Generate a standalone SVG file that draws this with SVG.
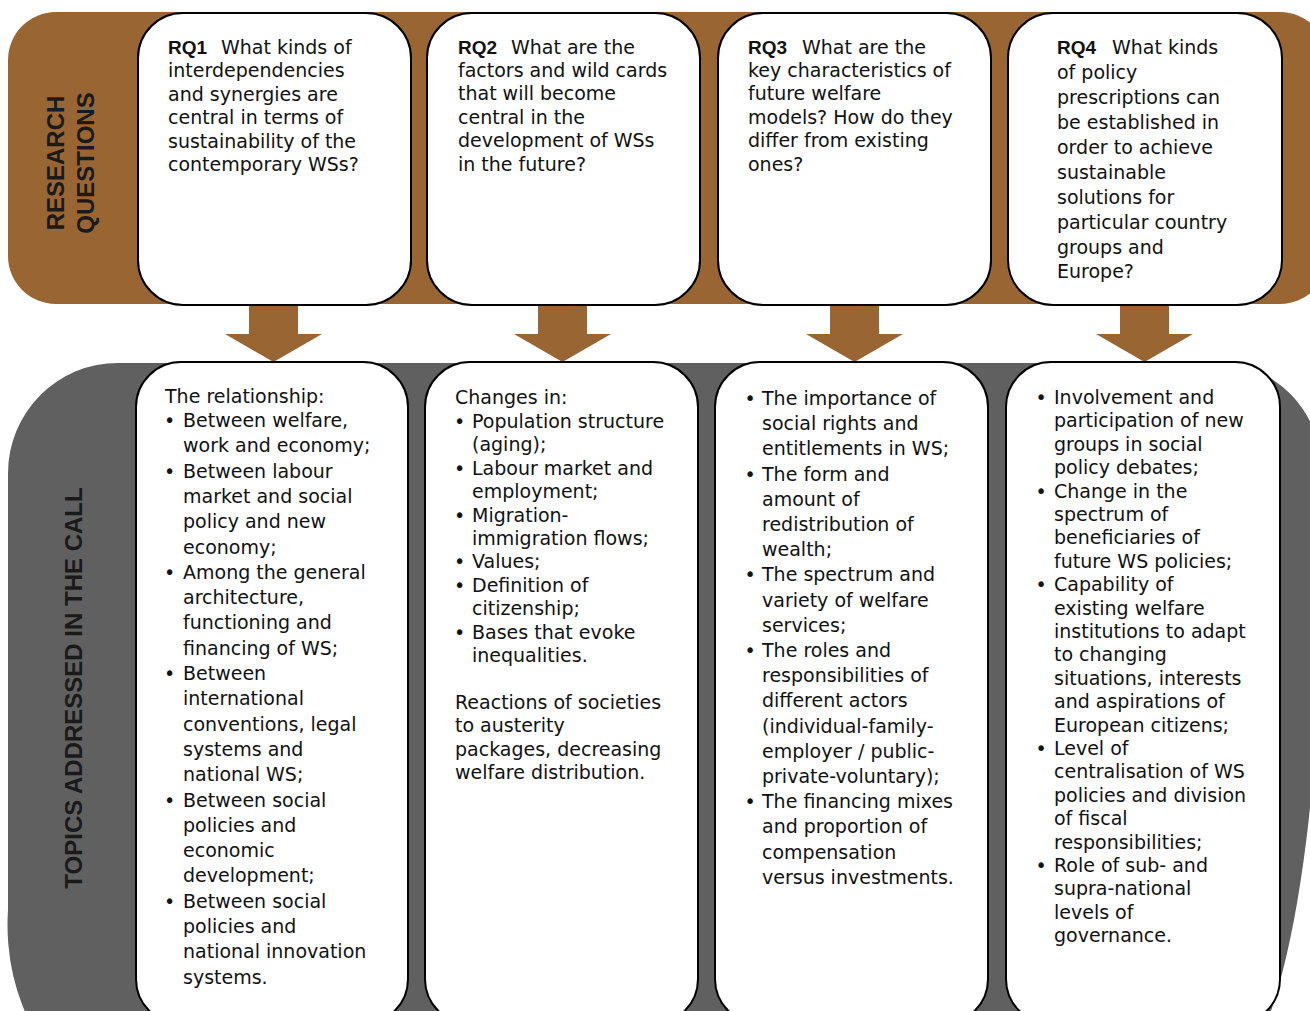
<svg xmlns="http://www.w3.org/2000/svg" width="1310" height="1011" viewBox="0 0 1310 1011">
<style>
.band-brown{fill:#996633}
.band-gray{fill:#606060}
.box{fill:#fff;stroke:#000;stroke-width:2}
.arrow{fill:#996633}
.t{font-family:"DejaVu Sans","Verdana",sans-serif;font-size:19px;fill:#111}
.rq{font-family:"Liberation Sans",Arial,sans-serif;font-weight:bold}
.lbl{font-family:"Liberation Sans",Arial,sans-serif;font-weight:bold;font-size:24px;fill:#1a1a1a}
</style>
<rect x="0" y="0" width="1310" height="1011" fill="#fff"/>
<g id="band-research">
<rect class="band-brown" x="8" y="12" width="1320" height="292" rx="48"/>
<text class="lbl" transform="translate(64,163) rotate(-90)" text-anchor="middle">RESEARCH</text>
<text class="lbl" transform="translate(94,163) rotate(-90)" text-anchor="middle">QUESTIONS</text>
</g>
<g id="band-topics">
<path class="band-gray" d="M8,473 A110,110 0 0 1 118,363 H1216 A105,105 0 0 1 1321,468 V585 A105,500 0 0 1 1216,1085 H118 A110,160 0 0 1 8,910 Z"/>
<text class="lbl" transform="translate(82,688) rotate(-90)" text-anchor="middle">TOPICS ADDRESSED IN THE CALL</text>
</g>
<g id="connectors">
<polygon class="arrow" points="249,304 298,304 298,334 322,334 273.5,362 225,334 249,334"/>
<polygon class="arrow" points="538,304 587,304 587,334 611,334 562.5,362 514,334 538,334"/>
<polygon class="arrow" points="830,304 879,304 879,334 903,334 854.5,362 806,334 830,334"/>
<polygon class="arrow" points="1120,304 1169,304 1169,334 1193,334 1144.5,362 1096,334 1120,334"/>
</g>
<g id="rq1">
<rect class="box" x="138" y="13" width="273" height="292" rx="45"/>
<text class="t"><tspan class="rq" x="168" y="54">RQ1</tspan><tspan x="221" y="54">What kinds of</tspan><tspan x="168" y="77.4">interdependencies</tspan><tspan x="168" y="100.8">and synergies are</tspan><tspan x="168" y="124.2">central in terms of</tspan><tspan x="168" y="147.6">sustainability of the</tspan><tspan x="168" y="171">contemporary WSs?</tspan></text>
</g>
<g id="rq2">
<rect class="box" x="427" y="13" width="273" height="292" rx="45"/>
<text class="t"><tspan class="rq" x="458" y="53.5">RQ2</tspan><tspan x="511" y="53.5">What are the</tspan><tspan x="458" y="76.9">factors and wild cards</tspan><tspan x="458" y="100.3">that will become</tspan><tspan x="458" y="123.7">central in the</tspan><tspan x="458" y="147.1">development of WSs</tspan><tspan x="458" y="170.5">in the future?</tspan></text>
</g>
<g id="rq3">
<rect class="box" x="718" y="13" width="273" height="292" rx="45"/>
<text class="t"><tspan class="rq" x="748" y="53.5">RQ3</tspan><tspan x="802" y="53.5">What are the</tspan><tspan x="748" y="76.9">key characteristics of</tspan><tspan x="748" y="100.3">future welfare</tspan><tspan x="748" y="123.7">models? How do they</tspan><tspan x="748" y="147.1">differ from existing</tspan><tspan x="748" y="170.5">ones?</tspan></text>
</g>
<g id="rq4">
<rect class="box" x="1008" y="13" width="274" height="292" rx="45"/>
<text class="t"><tspan class="rq" x="1057" y="54">RQ4</tspan><tspan x="1112" y="54">What kinds</tspan><tspan x="1057" y="79">of policy</tspan><tspan x="1057" y="104">prescriptions can</tspan><tspan x="1057" y="129">be established in</tspan><tspan x="1057" y="154">order to achieve</tspan><tspan x="1057" y="179">sustainable</tspan><tspan x="1057" y="204">solutions for</tspan><tspan x="1057" y="229">particular country</tspan><tspan x="1057" y="254">groups and</tspan><tspan x="1057" y="278">Europe?</tspan></text>
</g>
<g id="topics1">
<rect class="box" x="136" y="362" width="272" height="662" rx="45"/>
<text class="t"><tspan x="165" y="403">The relationship:</tspan><tspan x="163.9" y="427">•</tspan><tspan x="183" y="427">Between welfare,</tspan><tspan x="183" y="452.3">work and economy;</tspan><tspan x="163.9" y="477.6">•</tspan><tspan x="183" y="477.6">Between labour</tspan><tspan x="183" y="502.9">market and social</tspan><tspan x="183" y="528.2">policy and new</tspan><tspan x="183" y="553.5">economy;</tspan><tspan x="163.9" y="578.8">•</tspan><tspan x="183" y="578.8">Among the general</tspan><tspan x="183" y="604.1">architecture,</tspan><tspan x="183" y="629.4">functioning and</tspan><tspan x="183" y="654.7">financing of WS;</tspan><tspan x="163.9" y="680">•</tspan><tspan x="183" y="680">Between</tspan><tspan x="183" y="705.3">international</tspan><tspan x="183" y="730.6">conventions, legal</tspan><tspan x="183" y="755.9">systems and</tspan><tspan x="183" y="781.2">national WS;</tspan><tspan x="163.9" y="806.5">•</tspan><tspan x="183" y="806.5">Between social</tspan><tspan x="183" y="831.8">policies and</tspan><tspan x="183" y="857.1">economic</tspan><tspan x="183" y="882.4">development;</tspan><tspan x="163.9" y="907.7">•</tspan><tspan x="183" y="907.7">Between social</tspan><tspan x="183" y="933">policies and</tspan><tspan x="183" y="958.3">national innovation</tspan><tspan x="183" y="983.6">systems.</tspan></text>
</g>
<g id="topics2">
<rect class="box" x="425" y="362" width="273" height="662" rx="45"/>
<text class="t"><tspan x="455" y="404">Changes in:</tspan><tspan x="453.9" y="428">•</tspan><tspan x="472" y="428">Population structure</tspan><tspan x="472" y="451">(aging);</tspan><tspan x="453.9" y="475">•</tspan><tspan x="472" y="475">Labour market and</tspan><tspan x="472" y="498">employment;</tspan><tspan x="453.9" y="522">•</tspan><tspan x="472" y="522">Migration-</tspan><tspan x="472" y="545">immigration flows;</tspan><tspan x="453.9" y="568">•</tspan><tspan x="472" y="568">Values;</tspan><tspan x="453.9" y="592">•</tspan><tspan x="472" y="592">Definition of</tspan><tspan x="472" y="615">citizenship;</tspan><tspan x="453.9" y="639">•</tspan><tspan x="472" y="639">Bases that evoke</tspan><tspan x="472" y="662">inequalities.</tspan><tspan x="455" y="709">Reactions of societies</tspan><tspan x="455" y="732">to austerity</tspan><tspan x="455" y="756">packages, decreasing</tspan><tspan x="455" y="779">welfare distribution.</tspan></text>
</g>
<g id="topics3">
<rect class="box" x="715" y="362" width="273" height="662" rx="45"/>
<text class="t"><tspan x="744.4" y="405">•</tspan><tspan x="762" y="405">The importance of</tspan><tspan x="762" y="430.2">social rights and</tspan><tspan x="762" y="455.4">entitlements in WS;</tspan><tspan x="744.4" y="480.6">•</tspan><tspan x="762" y="480.6">The form and</tspan><tspan x="762" y="505.8">amount of</tspan><tspan x="762" y="531">redistribution of</tspan><tspan x="762" y="556.2">wealth;</tspan><tspan x="744.4" y="581.4">•</tspan><tspan x="762" y="581.4">The spectrum and</tspan><tspan x="762" y="606.6">variety of welfare</tspan><tspan x="762" y="631.8">services;</tspan><tspan x="744.4" y="657">•</tspan><tspan x="762" y="657">The roles and</tspan><tspan x="762" y="682.2">responsibilities of</tspan><tspan x="762" y="707.4">different actors</tspan><tspan x="762" y="732.6">(individual-family-</tspan><tspan x="762" y="757.8">employer / public-</tspan><tspan x="762" y="783">private-voluntary);</tspan><tspan x="744.4" y="808.2">•</tspan><tspan x="762" y="808.2">The financing mixes</tspan><tspan x="762" y="833.4">and proportion of</tspan><tspan x="762" y="858.6">compensation</tspan><tspan x="762" y="883.8">versus investments.</tspan></text>
</g>
<g id="topics4">
<rect class="box" x="1006" y="362" width="274" height="662" rx="45"/>
<text class="t"><tspan x="1035.4" y="404">•</tspan><tspan x="1054" y="404">Involvement and</tspan><tspan x="1054" y="427.4">participation of new</tspan><tspan x="1054" y="450.8">groups in social</tspan><tspan x="1054" y="474.2">policy debates;</tspan><tspan x="1035.4" y="497.6">•</tspan><tspan x="1054" y="497.6">Change in the</tspan><tspan x="1054" y="521">spectrum of</tspan><tspan x="1054" y="544.4">beneficiaries of</tspan><tspan x="1054" y="567.8">future WS policies;</tspan><tspan x="1035.4" y="591.2">•</tspan><tspan x="1054" y="591.2">Capability of</tspan><tspan x="1054" y="614.6">existing welfare</tspan><tspan x="1054" y="638">institutions to adapt</tspan><tspan x="1054" y="661.4">to changing</tspan><tspan x="1054" y="684.8">situations, interests</tspan><tspan x="1054" y="708.2">and aspirations of</tspan><tspan x="1054" y="731.6">European citizens;</tspan><tspan x="1035.4" y="755">•</tspan><tspan x="1054" y="755">Level of</tspan><tspan x="1054" y="778.4">centralisation of WS</tspan><tspan x="1054" y="801.8">policies and division</tspan><tspan x="1054" y="825.2">of fiscal</tspan><tspan x="1054" y="848.6">responsibilities;</tspan><tspan x="1035.4" y="872">•</tspan><tspan x="1054" y="872">Role of sub- and</tspan><tspan x="1054" y="895.4">supra-national</tspan><tspan x="1054" y="918.8">levels of</tspan><tspan x="1054" y="942.2">governance.</tspan></text>
</g>
</svg>
